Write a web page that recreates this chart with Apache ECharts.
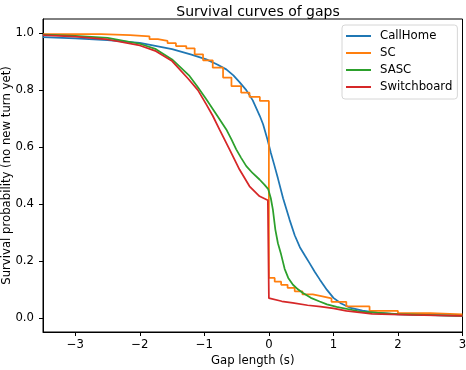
<!DOCTYPE html>
<html>
<head>
<meta charset="utf-8">
<script src="https://cdn.jsdelivr.net/npm/echarts@6/dist/echarts.min.js"></script>
<style>html,body{margin:0;padding:0;background:#fff;}#c{width:466px;height:370px;}</style>
</head>
<body>
<div id="c"></div>
<script>
const xTicks = [-3, -2, -1, 0, 1, 2, 3];
const yTicks = [0, 0.2, 0.4, 0.6, 0.8, 1.0];

const callhomeX = [-3.5,-3.0,-2.5,-2.0,-1.5,-1.2,-0.97,-0.8,-0.66,-0.55,-0.455,-0.35,-0.25,-0.14,-0.09,-0.02,0.03,0.08,0.14,0.22,0.32,0.4,0.48,0.56,0.63,0.71,0.79,0.9,1.0,1.12,1.25,1.45,1.67,2.0,2.5,3.0];
const callhomeY = [0.986,0.982,0.976,0.966,0.944,0.925,0.908,0.89,0.873,0.852,0.828,0.80,0.764,0.709,0.68,0.625,0.58,0.54,0.49,0.42,0.345,0.29,0.248,0.218,0.192,0.162,0.134,0.098,0.07,0.05,0.036,0.025,0.018,0.012,0.009,0.007];

const scX = [-3.5,-2.6,-2.15,-1.85,-1.72,-1.57,-1.44,-1.28,-1.15,-1.02,-0.87,-0.71,-0.58,-0.43,-0.30,-0.14,0,0.09,0.19,0.29,0.40,0.52,0.68,0.83,0.97,1.2,1.56,2.0,2.5,3.0];
const scY = [0.997,0.993,0.989,0.979,0.973,0.965,0.955,0.947,0.926,0.905,0.879,0.844,0.814,0.791,0.776,0.762,0.14,0.127,0.116,0.105,0.093,0.082,0.075,0.068,0.056,0.04,0.024,0.016,0.012,0.01];

const sascX = [-3.5,-3.0,-2.5,-2.0,-1.75,-1.5,-1.23,-1.1,-0.97,-0.8,-0.66,-0.58,-0.506,-0.43,-0.35,-0.25,-0.145,-0.07,-0.01,0.03,0.062,0.1,0.14,0.19,0.244,0.3,0.373,0.45,0.528,0.65,0.787,0.9,1.05,1.41,2.0,3.0];
const sascY = [0.995,0.991,0.984,0.963,0.944,0.908,0.85,0.81,0.768,0.71,0.662,0.627,0.592,0.562,0.533,0.508,0.486,0.468,0.452,0.42,0.38,0.31,0.262,0.222,0.172,0.14,0.116,0.1,0.087,0.07,0.057,0.047,0.038,0.022,0.013,0.007];

const swbX = [-3.5,-3.0,-2.5,-2.0,-1.75,-1.5,-1.25,-1.1,-0.97,-0.87,-0.766,-0.61,-0.455,-0.3,-0.144,-0.016,0,0.2,0.37,0.6,0.8,1.0,1.2,1.6,2.2,3.0];
const swbY = [0.993,0.988,0.978,0.957,0.937,0.902,0.84,0.8,0.75,0.71,0.662,0.592,0.521,0.462,0.427,0.413,0.069,0.058,0.052,0.044,0.039,0.033,0.024,0.014,0.01,0.007];

const names = ['CallHome', 'SC', 'SASC', 'Switchboard'];
const colors = ['#1f77b4', '#ff7f0e', '#2ca02c', '#d62728'];

function pairs(xs, ys) { return xs.map((x, i) => [x, ys[i]]); }
const FONT = 'DejaVu Sans';
const FS = 11.7;
const fmt = v => (v < 0 ? '\u2212' + Math.abs(v) : String(v));

const chart = echarts.init(document.getElementById('c'), null, { renderer: 'canvas' });
const mk = (name, data, i, step) => ({
  name, type: 'line', data, step: step || false, symbol: 'none', showSymbol: false,
  color: colors[i], lineStyle: { width: 1.75, color: colors[i] }, clip: true, animation: false
});
chart.setOption({
  animation: false,
  textStyle: { fontFamily: FONT },
  title: {
    text: 'Survival curves of gaps', left: 253, top: 0, textAlign: 'center',
    textStyle: { fontFamily: FONT, fontSize: 14, fontWeight: 'normal', color: '#000' }
  },
  grid: { left: 43, right: 3.5, top: 19, bottom: 38, containLabel: false, outerBoundsMode: 'none',
    show: true, borderColor: '#000', borderWidth: 1, backgroundColor: 'transparent' },
  legend: {
    data: names, orient: 'vertical', left: 342, top: 25,
    icon: 'rect', itemWidth: 25, itemHeight: 2, itemGap: 5,
    padding: [5, 5, 6, 4], borderColor: '#d6d6d6', borderWidth: 1, borderRadius: 3,
    backgroundColor: 'rgba(255,255,255,0.8)',
    textStyle: { fontFamily: FONT, fontSize: FS, color: '#000', padding: [0, 0, 0, 4] }
  },
  xAxis: {
    type: 'value', min: -3.5, max: 3,
    name: 'Gap length (s)', nameLocation: 'middle', nameGap: 23, nameMoveOverlap: false,
    nameTextStyle: { fontFamily: FONT, fontSize: FS, color: '#000' },
    axisLine: { show: true, onZero: false, lineStyle: { color: '#000', width: 1 } },
    axisTick: { show: true, inside: false, length: 4, customValues: xTicks, lineStyle: { color: '#000' } },
    axisLabel: { customValues: xTicks, formatter: fmt, margin: 7, fontFamily: FONT, fontSize: FS, color: '#000' },
    splitLine: { show: false }
  },
  yAxis: {
    type: 'value', min: -0.05, max: 1.05,
    name: 'Survival probability (no new turn yet)', nameLocation: 'middle', nameGap: 30, nameRotate: 90,
    nameMoveOverlap: false,
    nameTextStyle: { fontFamily: FONT, fontSize: FS, color: '#000' },
    axisLine: { show: true, onZero: false, lineStyle: { color: '#000', width: 1 } },
    axisTick: { show: true, inside: false, length: 4, customValues: yTicks, lineStyle: { color: '#000' } },
    axisLabel: { customValues: yTicks, formatter: v => v.toFixed(1), margin: 9, fontFamily: FONT, fontSize: FS, color: '#000' },
    splitLine: { show: false }
  },
  series: [
    mk(names[0], pairs(callhomeX, callhomeY), 0),
    mk(names[1], pairs(scX, scY), 1, 'end'),
    mk(names[2], pairs(sascX, sascY), 2),
    mk(names[3], pairs(swbX, swbY), 3)
  ]
});
</script>
</body>
</html>
